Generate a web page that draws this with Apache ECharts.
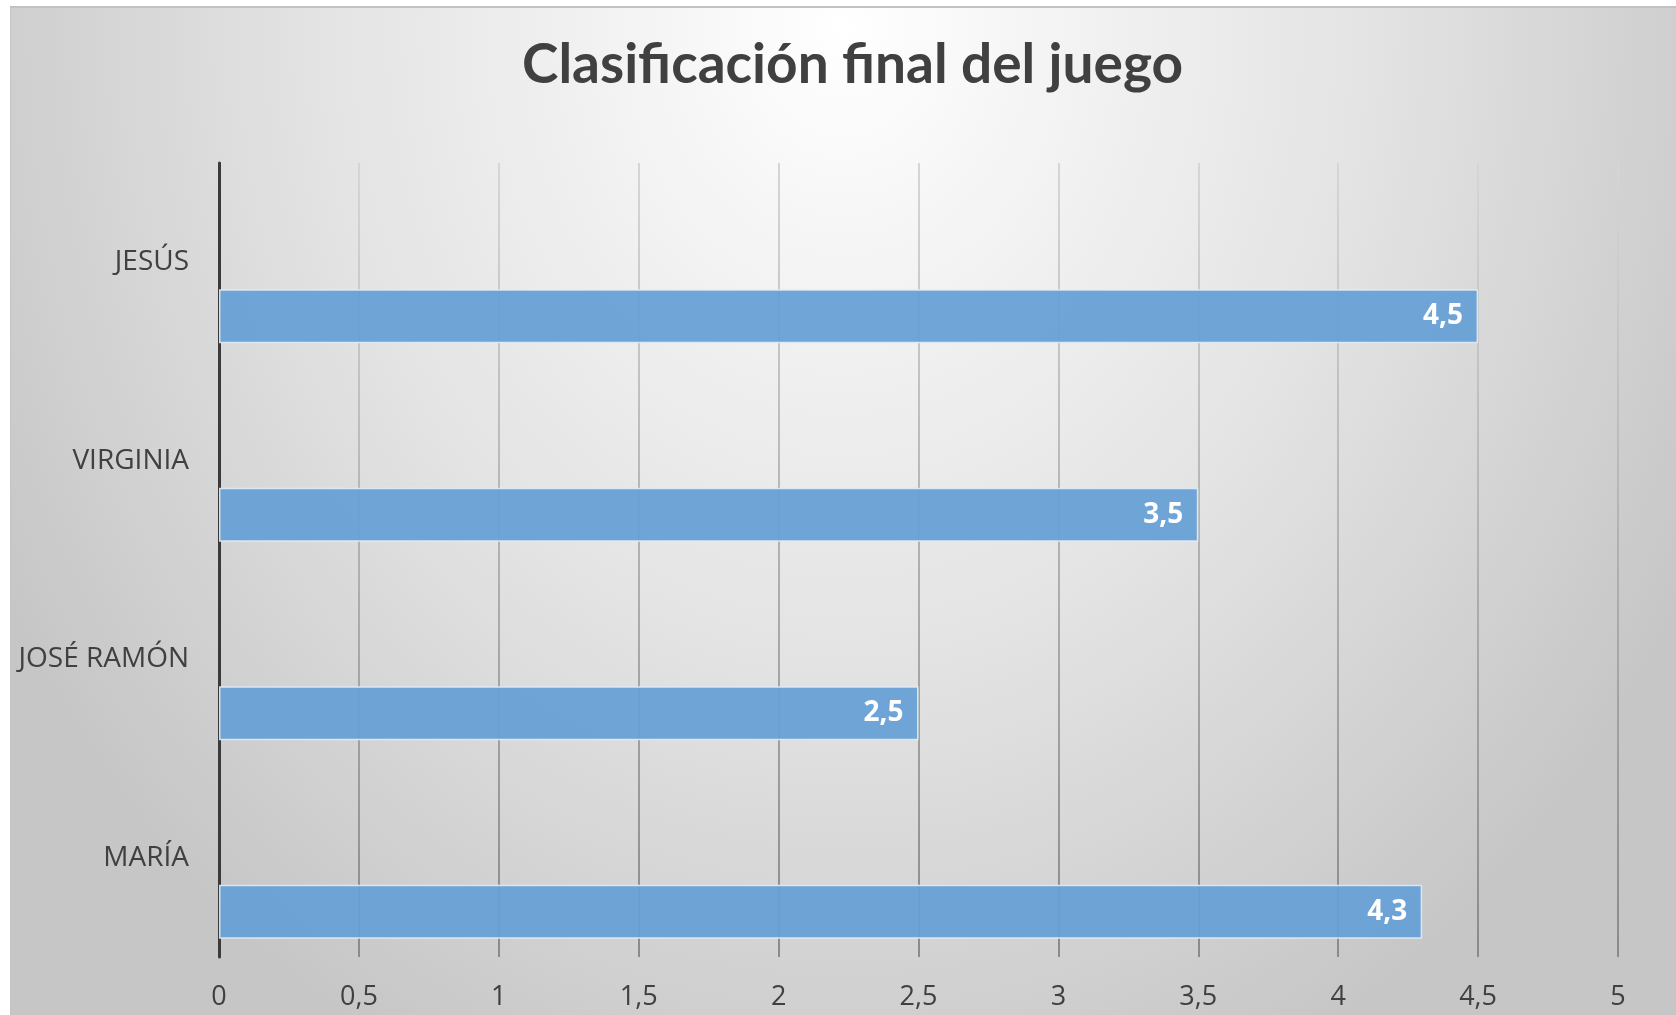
<!DOCTYPE html>
<html>
<head>
<meta charset="utf-8">
<script src="https://cdn.jsdelivr.net/npm/echarts@6/dist/echarts.min.js"></script>
<style>
html,body{margin:0;padding:0;background:#ffffff;}
#bg{position:absolute;left:10px;top:6px;width:1666px;height:1009px;
 border-top:2px solid #c2c2c2;border-left:1px solid #c4c4c4;box-sizing:border-box;
 background:radial-gradient(ellipse 58% 115% at 50% 2%, #ffffff 0%, #f2f2f2 25%, #e3e3e3 55%, #d3d3d3 80%, #c6c6c6 100%);}
#chart{position:absolute;left:0;top:0;width:1676px;height:1015px;}
</style>
</head>
<body>
<div id="bg"></div>
<div id="chart"></div>
<script>
const categories = ['MARÍA', 'JOSÉ RAMÓN', 'VIRGINIA', 'JESÚS'];
const scores = [4.3, 2.5, 3.5, 4.5];
const emptySeries = [];
const xTicks = [0, 0.5, 1, 1.5, 2, 2.5, 3, 3.5, 4, 4.5, 5];
const titleText = 'Clasificación final del juego';

const fmt = v => String(v).replace('.', ',');
const chart = echarts.init(document.getElementById('chart'), null, {renderer: 'canvas'});
chart.setOption({
  backgroundColor: 'transparent',
  animation: false,
  title: {
    text: titleText,
    left: 517,
    top: 33,
    textStyle: {fontFamily: 'Lato', fontWeight: 'bold', fontSize: 55, color: '#404040'}
  },
  grid: {left: 219, right: 58, top: 163, bottom: 58, containLabel: false},
  xAxis: {
    type: 'value',
    min: xTicks[0],
    max: xTicks[xTicks.length - 1],
    interval: 0.5,
    axisLine: {show: false},
    axisTick: {show: false},
    axisLabel: {
      formatter: fmt, fontFamily: 'Open Sans', fontSize: 27, color: '#404040', margin: 27
    },
    splitLine: {
      show: true,
      lineStyle: {
        width: 2,
        color: {type: 'linear', x: 0, y: 0, x2: 0, y2: 1,
          colorStops: [{offset: 0, color: '#d6d6d6'}, {offset: 0.5, color: '#b0b0b0'}, {offset: 1, color: '#8a8a8a'}]}
      }
    }
  },
  yAxis: {
    type: 'category',
    data: categories,
    axisLine: {show: true, lineStyle: {color: '#3a3a3a', width: 3}},
    axisTick: {show: false},
    axisLabel: {fontFamily: 'Open Sans', fontSize: 28, color: '#404040', margin: 30}
  },
  series: [
    {
      type: 'bar',
      name: 'vacío',
      data: emptySeries,
      barWidth: 54,
      barGap: '100%'
    },
    {
      type: 'bar',
      name: 'Puntos',
      data: scores,
      barWidth: 54,
      barGap: '100%',
      itemStyle: {color: 'rgba(104,160,213,0.95)', borderColor: 'rgba(225,236,246,0.9)', borderWidth: 1.5},
      label: {
        show: true, position: 'insideRight', distance: 15, formatter: p => fmt(p.value),
        fontFamily: 'Open Sans', fontWeight: 'bold', fontSize: 28, color: '#ffffff'
      }
    }
  ]
});
</script>
</body>
</html>
